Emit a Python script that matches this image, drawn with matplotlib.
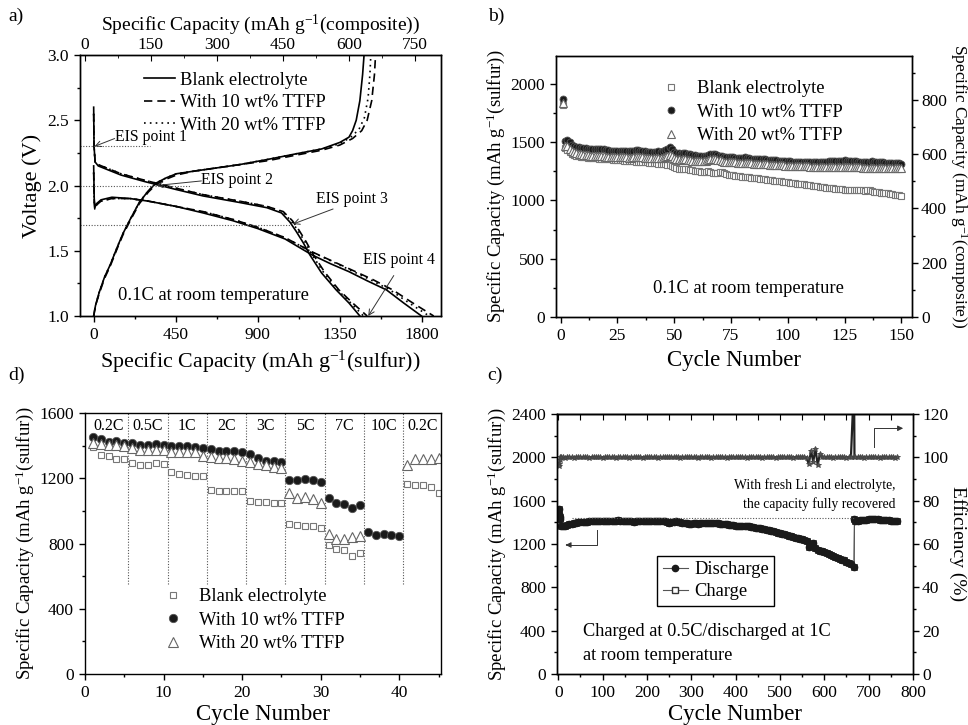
import numpy as np
import matplotlib
matplotlib.use('Agg')
import matplotlib.pyplot as plt
from matplotlib.lines import Line2D
from matplotlib.ticker import MultipleLocator

plt.rcParams['font.family'] = ['Liberation Serif', 'DejaVu Serif']
plt.rcParams['mathtext.fontset'] = 'custom'
plt.rcParams['mathtext.rm'] = 'Liberation Serif'
plt.rcParams['mathtext.it'] = 'Liberation Serif:italic'
plt.rcParams['mathtext.bf'] = 'Liberation Serif:bold'
plt.rcParams['axes.linewidth'] = 1.0

# ---------------- a) voltage profiles ----------------
chg_blank_cap = [0, 10, 30, 60, 90, 130, 160, 200, 250, 300, 344, 400, 454, 550, 650, 800, 955, 1100, 1250, 1350, 1400, 1420, 1440, 1460, 1475, 1483]
chg_blank_v = [1.0, 1.08, 1.18, 1.3, 1.39, 1.53, 1.63, 1.74, 1.87, 1.96, 2.02, 2.06, 2.09, 2.11, 2.13, 2.16, 2.2, 2.24, 2.28, 2.33, 2.37, 2.42, 2.5, 2.65, 2.85, 3.0]
chg_10_cap = [0, 10, 30, 60, 90, 130, 160, 200, 250, 300, 344, 400, 454, 550, 650, 800, 955, 1100, 1250, 1350, 1420, 1470, 1500, 1525, 1540, 1546]
chg_10_v = [1.0, 1.08, 1.17, 1.29, 1.38, 1.52, 1.62, 1.73, 1.86, 1.95, 2.01, 2.05, 2.08, 2.11, 2.13, 2.16, 2.19, 2.23, 2.27, 2.31, 2.36, 2.42, 2.5, 2.65, 2.85, 3.0]
chg_20_cap = [0, 10, 30, 60, 90, 130, 160, 200, 250, 300, 344, 400, 454, 550, 650, 800, 955, 1100, 1250, 1350, 1410, 1455, 1485, 1505, 1515, 1520]
chg_20_v = [1.0, 1.08, 1.18, 1.3, 1.39, 1.53, 1.63, 1.74, 1.87, 1.96, 2.02, 2.06, 2.09, 2.11, 2.13, 2.16, 2.2, 2.24, 2.28, 2.32, 2.37, 2.43, 2.52, 2.67, 2.85, 3.0]

dis1_blank_cap = [0, 2, 8, 25, 150, 280, 450, 600, 800, 950, 1030, 1076, 1110, 1150, 1185, 1250, 1330, 1400, 1460]
dis1_blank_v = [2.6, 2.3, 2.18, 2.15, 2.08, 2.03, 1.97, 1.92, 1.87, 1.83, 1.79, 1.72, 1.65, 1.56, 1.47, 1.33, 1.2, 1.1, 1.0]
dis1_10_cap = [0, 2, 8, 25, 150, 280, 450, 600, 800, 950, 1040, 1090, 1125, 1165, 1200, 1265, 1345, 1420, 1500]
dis1_20_cap = [0, 2, 8, 25, 150, 280, 450, 600, 800, 950, 1035, 1082, 1118, 1158, 1193, 1258, 1338, 1410, 1480]
dis1_add_v = [2.55, 2.3, 2.18, 2.16, 2.09, 2.04, 1.98, 1.93, 1.88, 1.84, 1.8, 1.73, 1.66, 1.57, 1.48, 1.34, 1.2, 1.1, 1.0]

dis2_blank_cap = [0, 3, 6, 15, 40, 100, 200, 300, 450, 600, 764, 900, 1050, 1195, 1300, 1400, 1500, 1606, 1700, 1798]
dis2_blank_v = [2.15, 1.9, 1.83, 1.86, 1.89, 1.91, 1.9, 1.88, 1.84, 1.79, 1.73, 1.67, 1.59, 1.47, 1.4, 1.34, 1.27, 1.2, 1.1, 1.0]
dis2_10_cap = [0, 3, 6, 15, 40, 100, 200, 300, 450, 600, 764, 900, 1050, 1200, 1310, 1420, 1530, 1640, 1750, 1865]
dis2_20_cap = [0, 3, 6, 15, 40, 100, 200, 300, 450, 600, 764, 900, 1050, 1198, 1305, 1410, 1515, 1625, 1730, 1840]
dis2_add_v = [2.1, 1.88, 1.82, 1.85, 1.88, 1.9, 1.9, 1.88, 1.84, 1.8, 1.74, 1.68, 1.6, 1.49, 1.42, 1.35, 1.28, 1.2, 1.1, 1.0]

eis_v = [2.3, 2.0, 1.7]
eis_line_end = [307, 527, 1076]

# ---------------- b) cycling at 0.1C ----------------
b_ttfp10 = [1870,
            1510, 1520, 1500, 1480, 1468, 1460, 1455, 1452, 1450,
            1448, 1446, 1445, 1443, 1442, 1440, 1440, 1445, 1438, 1432,
            1430, 1428, 1428, 1427, 1426, 1425, 1425, 1424, 1423, 1422,
            1422, 1424, 1430, 1432, 1428, 1425, 1422, 1420, 1420, 1419,
            1420, 1420, 1421, 1420, 1422, 1430, 1445, 1458, 1440, 1415,
            1408, 1405, 1402, 1405, 1408, 1402, 1398, 1392, 1388, 1385,
            1382, 1380, 1380, 1382, 1388, 1395, 1400, 1398, 1392, 1385,
            1380, 1376, 1374, 1372, 1370, 1370, 1368, 1366, 1366, 1368,
            1370, 1366, 1362, 1360, 1358, 1356, 1356, 1355, 1354, 1352,
            1350, 1348, 1346, 1345, 1344, 1342, 1340, 1338, 1338, 1336,
            1335, 1334, 1333, 1332, 1332, 1331, 1330, 1330, 1330, 1330,
            1330, 1330, 1331, 1332, 1332, 1333, 1334, 1335, 1335, 1336,
            1337, 1338, 1340, 1342, 1345, 1342, 1340, 1338, 1336, 1335,
            1334, 1333, 1332, 1331, 1330, 1333, 1335, 1332, 1330, 1328,
            1327, 1326, 1325, 1324, 1323, 1322, 1321, 1320, 1318, 1315]
b_ttfp20 = [1840,
            1470, 1465, 1440, 1425, 1412, 1405, 1400, 1396, 1392,
            1390, 1388, 1386, 1385, 1384, 1382, 1380, 1382, 1380, 1376,
            1375, 1374, 1373, 1372, 1372, 1371, 1370, 1370, 1369, 1368,
            1368, 1370, 1374, 1376, 1372, 1370, 1368, 1368, 1367, 1366,
            1366, 1366, 1367, 1366, 1368, 1375, 1385, 1392, 1380, 1362,
            1356, 1352, 1350, 1352, 1354, 1350, 1346, 1342, 1340, 1338,
            1336, 1336, 1338, 1342, 1348, 1352, 1358, 1356, 1350, 1344,
            1338, 1334, 1332, 1330, 1328, 1327, 1326, 1325, 1324, 1324,
            1324, 1322, 1320, 1318, 1316, 1315, 1314, 1313, 1312, 1310,
            1309, 1308, 1306, 1305, 1304, 1303, 1302, 1301, 1300, 1299,
            1298, 1297, 1296, 1295, 1295, 1294, 1293, 1292, 1292, 1291,
            1291, 1290, 1290, 1289, 1289, 1288, 1288, 1288, 1287, 1287,
            1287, 1286, 1286, 1286, 1286, 1285, 1285, 1285, 1284, 1284,
            1284, 1284, 1283, 1283, 1283, 1283, 1282, 1282, 1282, 1282,
            1281, 1281, 1281, 1281, 1280, 1280, 1280, 1280, 1280, 1279]
b_blank = [1820,
           1450, 1430, 1415, 1402, 1392, 1385, 1380, 1376, 1372,
           1370, 1368, 1366, 1365, 1363, 1361, 1360, 1359, 1357, 1355,
           1353, 1352, 1350, 1349, 1347, 1345, 1344, 1342, 1340, 1338,
           1337, 1336, 1334, 1333, 1331, 1330, 1328, 1326, 1324, 1322,
           1320, 1318, 1316, 1314, 1312, 1310, 1306, 1302, 1296, 1285,
           1278, 1272, 1270, 1272, 1270, 1266, 1262, 1258, 1255, 1252,
           1250, 1246, 1244, 1248, 1250, 1248, 1240, 1232, 1240, 1245,
           1242, 1236, 1228, 1222, 1218, 1215, 1212, 1210, 1207, 1205,
           1203, 1200, 1198, 1196, 1194, 1191, 1189, 1186, 1184, 1181,
           1179, 1176, 1174, 1171, 1169, 1166, 1163, 1160, 1158, 1155,
           1153, 1150, 1148, 1145, 1143, 1140, 1138, 1135, 1133, 1130,
           1126, 1123, 1121, 1118, 1116, 1113, 1111, 1108, 1106, 1104,
           1102, 1100, 1098, 1096, 1094, 1093, 1092, 1091, 1090, 1089,
           1088, 1087, 1086, 1085, 1088, 1092, 1084, 1076, 1072, 1070,
           1068, 1066, 1063, 1060, 1057, 1054, 1051, 1048, 1045, 1040]
b_cycles = np.arange(1, len(b_blank) + 1)

# ---------------- d) rate capability ----------------
d_cycles = np.arange(1, 46)
d_blank = [1394, 1343, 1335, 1319, 1319, 1294, 1282, 1282, 1292, 1288,
           1237, 1227, 1217, 1213, 1213, 1129, 1121, 1121, 1121, 1121,
           1058, 1054, 1054, 1050, 1048, 921, 915, 907, 905, 897,
           793, 764, 762, 724, 744, np.nan, np.nan, np.nan, np.nan, np.nan,
           1166, 1160, 1160, 1146, 1109]
d_ttfp10 = [1451, 1441, 1421, 1427, 1417, 1417, 1406, 1406, 1410, 1404,
            1396, 1396, 1400, 1394, 1384, 1380, 1366, 1370, 1364, 1360,
            1349, 1325, 1305, 1305, 1298, 1190, 1190, 1196, 1190, 1180,
            1078, 1048, 1044, 1017, 1033, 870, 850, 856, 850, 846,
            np.nan, np.nan, np.nan, np.nan, np.nan]
d_ttfp20 = [1417, 1410, 1404, 1404, 1400, 1384, 1376, 1376, 1376, 1376,
            1360, 1360, 1360, 1360, 1339, 1329, 1325, 1325, 1319, 1308,
            1298, 1288, 1282, 1272, 1262, 1109, 1080, 1088, 1074, 1048,
            860, 830, 830, 840, 846, np.nan, np.nan, np.nan, np.nan, np.nan,
            1282, 1319, 1315, 1315, 1323]
d_rates = ['0.2C', '0.5C', '1C', '2C', '3C', '5C', '7C', '10C', '0.2C']
d_rate_centers = [3, 8, 13, 18, 23, 28, 33, 38, 43]
d_bounds = [5.5, 10.5, 15.5, 20.5, 25.5, 30.5, 35.5, 40.5]

# ---------------- c) long cycling ----------------
c_cycles = [1, 2, 3, 4] + list(range(5, 661, 5)) + [667, 668] + list(range(670, 766, 5))
c_discharge = [1520, 1480, 1445, 1430,
               1370, 1365, 1368, 1375, 1382, 1388, 1393, 1396, 1399, 1401,
               1403, 1405, 1406, 1408, 1409, 1410, 1411, 1412, 1413, 1414,
               1414, 1415, 1415, 1416, 1416, 1416, 1417, 1416, 1416, 1415,
               1414, 1412, 1410, 1400, 1408, 1412, 1414, 1415, 1415, 1414,
               1414, 1413, 1413, 1412, 1411, 1410, 1410, 1409, 1402, 1397,
               1404, 1407, 1408, 1405, 1400, 1398, 1395, 1392, 1385, 1382,
               1398, 1393, 1388, 1392, 1395, 1396, 1395, 1394, 1392, 1390,
               1392, 1390, 1388, 1386, 1384, 1382, 1380, 1376, 1372, 1365,
               1370, 1370, 1368, 1366, 1364, 1362, 1360, 1356, 1352, 1348,
               1344, 1340, 1334, 1330, 1326, 1322, 1318, 1312, 1306, 1300,
               1295, 1290, 1284, 1278, 1272, 1266, 1260, 1254, 1250, 1244,
               1236, 1230, 1175, 1195, 1205, 1160, 1145, 1140, 1132, 1125,
               1115, 1105, 1097, 1088, 1080, 1072, 1064, 1056, 1048, 1038,
               1025, 1012,
               990, 1430,
               1410, 1412, 1418, 1422, 1425, 1426, 1427, 1428, 1428, 1428,
               1427, 1426, 1425, 1423, 1420, 1418, 1415, 1412, 1410, 1408]
# charge points lie under the discharge points at this scale
c_charge = list(c_discharge)
c_eff = [97.0, 96.0, 99.0, 100.0,
         100.2, 100.0, 99.9, 100.1, 100.0, 100.0, 99.9, 100.1, 100.0, 100.0,
         100.0, 100.1, 100.0, 99.9, 100.0, 100.0, 100.1, 100.0, 100.0, 99.9,
         100.0, 100.0, 100.1, 100.0, 100.0, 99.9, 100.0, 100.0, 100.1, 100.0,
         100.0, 99.9, 100.0, 100.1, 100.0, 100.0, 100.0, 99.9, 100.0, 100.1,
         100.0, 100.0, 100.0, 100.1, 99.9, 100.0, 100.0, 100.0, 100.1, 100.0,
         100.0, 100.1, 100.0, 100.0, 99.9, 100.0, 100.0, 100.1, 100.0, 100.0,
         100.0, 100.0, 99.9, 100.0, 100.1, 100.0, 100.0, 100.0, 99.9, 100.0,
         100.1, 100.0, 100.0, 100.0, 100.0, 99.9, 100.0, 100.1, 100.0, 100.0,
         100.0, 100.0, 100.1, 100.0, 99.9, 100.0, 100.0, 100.0, 100.1, 100.0,
         100.0, 99.9, 100.0, 100.0, 100.1, 100.0, 100.0, 99.9, 100.0, 100.0,
         100.0, 100.1, 100.0, 100.0, 100.0, 99.9, 100.0, 100.0, 100.1, 100.0,
         100.0, 99.5, 97.0, 103.0, 98.0, 104.0, 96.5, 101.5, 100.0, 100.0,
         100.0, 100.1, 100.0, 99.9, 100.0, 100.0, 100.1, 100.0, 100.0, 99.9,
         100.0, 100.0,
         135.0, 100.0,
         100.0, 100.1, 100.0, 100.0, 99.9, 100.0, 100.0, 100.1, 100.0, 100.0,
         100.0, 99.9, 100.0, 100.0, 100.1, 100.0, 100.0, 100.0, 99.9, 100.0]

sulfur_lbl = r'Specific Capacity (mAh g$^{\mathregular{-1}}$(sulfur))'
comp_lbl = r'Specific Capacity (mAh g$^{\mathregular{-1}}$(composite))'

fig = plt.figure(figsize=(9.68, 7.25), dpi=100)
W, H = 968.0, 725.0


def place(l, r, t, b):
    return [l / W, 1 - b / H, (r - l) / W, (b - t) / H]


def style_ticks(ax):
    ax.tick_params(which='both', direction='out', labelsize=12.5, width=1.0)
    ax.tick_params(which='major', length=4.5)
    ax.tick_params(which='minor', length=2.5)


dash = (0, (5, 3))
dot = (0, (1, 2.5))

# ===== panel a =====
axa = fig.add_axes(place(80, 441, 55, 316))
for cap, v, ls in [(chg_blank_cap, chg_blank_v, '-'), (chg_10_cap, chg_10_v, dash), (chg_20_cap, chg_20_v, dot),
                   (dis1_blank_cap, dis1_blank_v, '-'), (dis1_10_cap, dis1_add_v, dash), (dis1_20_cap, dis1_add_v, dot),
                   (dis2_blank_cap, dis2_blank_v, '-'), (dis2_10_cap, dis2_add_v, dash), (dis2_20_cap, dis2_add_v, dot)]:
    axa.plot(cap, v, color='black', lw=1.2, ls=ls)
axa.hlines(eis_v, -75, eis_line_end, colors='#555555', linestyles=(0, (1, 1.5)), lw=0.8)
axa.set_xlim(-75, 1905)
axa.set_ylim(1.0, 3.0)
axa.xaxis.set_major_locator(MultipleLocator(450))
axa.xaxis.set_minor_locator(MultipleLocator(225))
axa.yaxis.set_major_locator(MultipleLocator(0.5))
axa.yaxis.set_minor_locator(MultipleLocator(0.25))
style_ticks(axa)
axa.set_xlabel(sulfur_lbl, fontsize=15.8, labelpad=4)
axa.set_ylabel('Voltage (V)', fontsize=16, labelpad=4)
ap = dict(arrowstyle='->', lw=0.7, color='#333333', shrinkA=0, shrinkB=0)
axa.text(115, 2.37, 'EIS point 1', fontsize=11.3, va='center', ha='left')
axa.annotate('', xy=(5, 2.3), xytext=(115, 2.36), arrowprops=ap)
axa.text(591, 2.04, 'EIS point 2', fontsize=11.3, va='center', ha='left')
axa.annotate('', xy=(344, 2.0), xytext=(591, 2.035), arrowprops=ap)
axa.text(1418, 1.9, 'EIS point 3', fontsize=11.3, va='center', ha='center')
axa.annotate('', xy=(1094, 1.705), xytext=(1313, 1.82), arrowprops=ap)
axa.text(1674, 1.43, 'EIS point 4', fontsize=11.3, va='center', ha='center')
axa.annotate('', xy=(1506, 1.0), xytext=(1646, 1.31), arrowprops=ap)
axa.text(658, 1.16, '0.1C at room temperature', fontsize=13.3, ha='center', va='center')
la = [Line2D([], [], color='black', lw=1.2, ls='-'),
      Line2D([], [], color='black', lw=1.2, ls=dash),
      Line2D([], [], color='black', lw=1.2, ls=dot)]
axa.legend(la, ['Blank electrolyte', 'With 10 wt% TTFP', 'With 20 wt% TTFP'], loc='upper left',
           bbox_to_anchor=(0.13, 1.0), frameon=False, fontsize=13.3, handlelength=1.7,
           handletextpad=0.3, labelspacing=0.3)
axa_t = axa.twiny()
axa_t.set_xlim(-11, 809)
axa_t.xaxis.set_major_locator(MultipleLocator(150))
axa_t.xaxis.set_minor_locator(MultipleLocator(75))
axa_t.tick_params(which='both', direction='in', labelsize=12.5, pad=1.5)
axa_t.tick_params(which='major', length=4.5)
axa_t.tick_params(which='minor', length=2.5)
axa_t.set_xlabel(comp_lbl, fontsize=14, labelpad=5)

# ===== panel b =====
axb = fig.add_axes(place(556, 912, 56, 317))
axb.plot(b_cycles, b_blank, ls='none', marker='s', ms=4, mfc='white', mec='#777777', mew=0.8,
         label='Blank electrolyte')
axb.plot(b_cycles, b_ttfp20, ls='none', marker='^', ms=5.5, mfc='white', mec='#666666', mew=0.8,
         label='With 20 wt% TTFP', zorder=3)
axb.plot(b_cycles, b_ttfp10, ls='none', marker='o', ms=5, mfc='#1a1a1a', mec='#555555', mew=0.6,
         label='With 10 wt% TTFP', zorder=2)
axb.set_xlim(-2, 154.7)
axb.set_ylim(0, 2240)
axb.xaxis.set_major_locator(MultipleLocator(25))
axb.xaxis.set_minor_locator(MultipleLocator(12.5))
axb.yaxis.set_major_locator(MultipleLocator(500))
axb.yaxis.set_minor_locator(MultipleLocator(250))
style_ticks(axb)
axb.set_xlabel('Cycle Number', fontsize=16.5, labelpad=4)
axb.set_ylabel(sulfur_lbl, fontsize=13.5, labelpad=2)
hb, lb = axb.get_legend_handles_labels()
order = [0, 2, 1]
axb.legend([hb[i] for i in order], [lb[i] for i in order], loc='upper left', bbox_to_anchor=(0.245, 0.97),
           frameon=False, fontsize=13.3, handlelength=1.2, handletextpad=0.8, labelspacing=0.35)
axb.text(0.54, 0.11, '0.1C at room temperature', transform=axb.transAxes, fontsize=13.3,
         ha='center', va='center')
axb_r = axb.twinx()
axb_r.set_ylim(0, 962)
axb_r.yaxis.set_major_locator(MultipleLocator(200))
axb_r.yaxis.set_minor_locator(MultipleLocator(100))
style_ticks(axb_r)
axb_r.tick_params(axis='y', pad=2)
axb_r.set_ylabel(comp_lbl, fontsize=12.5, rotation=270, va='bottom', labelpad=0.5)

# ===== panel d =====
axd = fig.add_axes(place(85, 441, 413, 674))
axd.vlines(d_bounds, 554, 1600, colors='#555555', linestyles=(0, (1, 1.5)), lw=0.8)
axd.plot(d_cycles, d_blank, ls='none', marker='s', ms=4.2, mfc='white', mec='#777777', mew=0.8,
         label='Blank electrolyte')
axd.plot(d_cycles, d_ttfp10, ls='none', marker='o', ms=6, mfc='#1a1a1a', mec='#555555', mew=0.6,
         label='With 10 wt% TTFP')
axd.plot(d_cycles, d_ttfp20, ls='none', marker='^', ms=6.5, mfc='white', mec='#666666', mew=0.8,
         label='With 20 wt% TTFP')
for xc, r in zip(d_rate_centers, d_rates):
    axd.text(xc, 1523, r, fontsize=11.5, ha='center', va='center')
axd.set_xlim(0, 45.3)
axd.set_ylim(0, 1600)
axd.xaxis.set_major_locator(MultipleLocator(10))
axd.xaxis.set_minor_locator(MultipleLocator(5))
axd.yaxis.set_major_locator(MultipleLocator(400))
axd.yaxis.set_minor_locator(MultipleLocator(200))
style_ticks(axd)
axd.set_xlabel('Cycle Number', fontsize=16.5, labelpad=2)
axd.set_ylabel(sulfur_lbl, fontsize=13.5, labelpad=2)
axd.legend(loc='lower left', bbox_to_anchor=(0.17, 0.02), frameon=False, fontsize=13.3,
           handlelength=1.2, handletextpad=0.8, labelspacing=0.35)

# ===== panel c =====
axc = fig.add_axes(place(557, 913, 414, 674))
axc.plot(c_cycles, c_charge, ls='-', color='#666666', lw=0.8, marker='s', ms=4, mfc='white',
         mec='#333333', mew=0.6)
axc.plot(c_cycles, c_discharge, ls='-', color='#555555', lw=0.8, marker='o', ms=4.5, mfc='#1a1a1a',
         mec='#1a1a1a')
axc.hlines(1443, 31, 668, colors='#555555', linestyles=(0, (1, 1.5)), lw=0.8)
axc.plot([87, 87, 20], [1330, 1191, 1191], color='#333333', lw=0.7)
axc.annotate('', xy=(10, 1191), xytext=(25, 1191),
             arrowprops=dict(arrowstyle='-|>', lw=0.7, color='#333333', mutation_scale=8))
axc.plot([713, 713, 770], [2098, 2268, 2268], color='#333333', lw=0.7)
axc.annotate('', xy=(784, 2268), xytext=(765, 2268),
             arrowprops=dict(arrowstyle='-|>', lw=0.7, color='#333333', mutation_scale=8))
axc.text(761, 1740, 'With fresh Li and electrolyte,', fontsize=9.8, ha='right', va='center')
axc.text(761, 1571, 'the capacity fully recovered', fontsize=9.8, ha='right', va='center')
axc.text(55, 390, 'Charged at 0.5C/discharged at 1C', fontsize=13.2, ha='left', va='center')
axc.text(55, 175, 'at room temperature', fontsize=13.2, ha='left', va='center')
axc.set_xlim(-3, 800)
axc.set_ylim(0, 2400)
axc.xaxis.set_major_locator(MultipleLocator(100))
axc.xaxis.set_minor_locator(MultipleLocator(50))
axc.yaxis.set_major_locator(MultipleLocator(400))
axc.yaxis.set_minor_locator(MultipleLocator(200))
style_ticks(axc)
axc.set_xlabel('Cycle Number', fontsize=16.5, labelpad=2)
axc.set_ylabel(sulfur_lbl, fontsize=13.5, labelpad=2)
lc = [Line2D([], [], color='#555555', lw=0.8, marker='o', ms=4.5, mfc='#1a1a1a', mec='#1a1a1a'),
      Line2D([], [], color='#555555', lw=0.8, marker='s', ms=4.5, mfc='white', mec='#333333')]
legc = axc.legend(lc, ['Discharge', 'Charge'], loc='upper left', bbox_to_anchor=(0.255, 0.49),
                  frameon=True, fancybox=False, edgecolor='black', framealpha=1, fontsize=13.3,
                  handlelength=1.4, handletextpad=0.3, labelspacing=0.25, borderpad=0.3)
legc.get_frame().set_linewidth(1.0)
sec = axc.secondary_xaxis('top')
sec.xaxis.set_major_locator(MultipleLocator(50))
sec.tick_params(direction='in', length=4, labeltop=False)
axc_r = axc.twinx()
axc_r.plot(c_cycles, c_eff, color='#222222', lw=1.6, marker='*', ms=4, mfc='#555555', mec='#444444',
           mew=0.6)
axc_r.set_ylim(0, 120)
axc_r.yaxis.set_major_locator(MultipleLocator(20))
axc_r.yaxis.set_minor_locator(MultipleLocator(10))
style_ticks(axc_r)
axc_r.tick_params(axis='y', pad=2)
axc_r.set_ylabel('Efficiency (%)', fontsize=14, rotation=270, va='bottom', labelpad=0.5)

for lab, x, y in [('a)', 8, 8), ('b)', 488, 8), ('d)', 8, 367), ('c)', 487, 367)]:
    fig.text(x / W, 1 - y / H, lab, fontsize=14, ha='left', va='top')

fig.savefig('out.png', dpi=100)
